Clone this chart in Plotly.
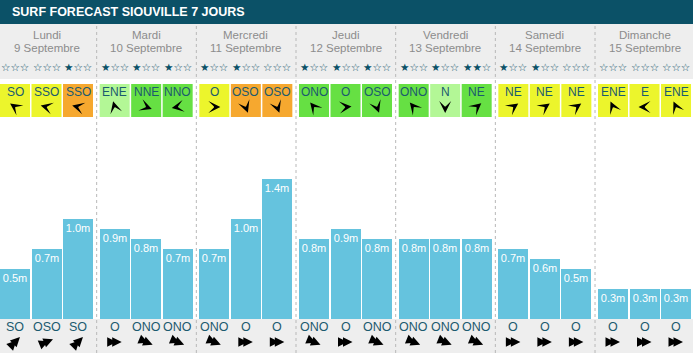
import math
import plotly.graph_objects as go

W, H = 693, 353

# ---------------- data ----------------
days = ["Lundi", "Mardi", "Mercredi", "Jeudi", "Vendredi", "Samedi", "Dimanche"]
dates = ["9 Septembre", "10 Septembre", "11 Septembre", "12 Septembre",
         "13 Septembre", "14 Septembre", "15 Septembre"]
stars = [[0, 0, 1], [1, 1, 1], [1, 1, 0], [1, 1, 1], [1, 1, 2], [1, 1, 0], [0, 0, 0]]
wind_dir = [["SO", "SSO", "SSO"], ["ENE", "NNE", "NNO"], ["O", "OSO", "OSO"],
            ["ONO", "O", "OSO"], ["ONO", "N", "NE"], ["NE", "NE", "NE"],
            ["ENE", "E", "ENE"]]
wind_level = [["y", "y", "o"], ["lg", "g", "g"], ["y", "o", "o"], ["g", "g", "g"],
              ["g", "lg", "g"], ["y", "y", "y"], ["y", "y", "y"]]
wind_arrow_angle = [[305, 285, 285], [345, 110, 260], [90, 160, 160], [320, 85, 160],
                    [320, 180, 50], [55, 55, 55], [335, 270, 335]]
wave_m = [[0.5, 0.7, 1.0], [0.9, 0.8, 0.7], [0.7, 1.0, 1.4], [0.8, 0.9, 0.8],
          [0.8, 0.8, 0.8], [0.7, 0.6, 0.5], [0.3, 0.3, 0.3]]
swell_dir = [["SO", "OSO", "SO"], ["O", "ONO", "ONO"], ["ONO", "O", "O"],
             ["ONO", "O", "ONO"], ["ONO", "ONO", "ONO"], ["O", "O", "O"],
             ["O", "O", "O"]]
swell_arrow_angle = [[45, 67.5, 45], [90, 112.5, 112.5], [112.5, 90, 90],
                     [112.5, 90, 112.5], [112.5, 112.5, 112.5], [90, 90, 90],
                     [90, 90, 90]]

# ---------------- style ----------------
TITLE_BG = "#0b5167"
GRAY_BG = "#eeeeee"
BAR_C = "#65c3de"
TEAL_TXT = "#1b5a6f"
DAY_TXT = "#8c8c8c"
SEP_C = "#b8b8b8"
LEVEL_C = {"y": "#ecf52c", "o": "#f6a82f", "lg": "#b3f796", "g": "#66e043"}
FONT = "Liberation Sans"

DAY_W = 99.67
SLOT = 31.5
BAR_W = 30
Y0 = 319      # pixel row of bar baseline
PXM = 100     # pixels per metre


def py(p):
    """pixel row -> paper fraction"""
    return 1 - p / H


def xc(d, s):
    return d * DAY_W + BAR_W / 2 + s * SLOT


xs, vals, labels = [], [], []
for d in range(7):
    for s in range(3):
        xs.append(xc(d, s))
        vals.append(wave_m[d][s])
        labels.append(f"{wave_m[d][s]:.1f}m")

fig = go.Figure()

shapes = [
    dict(type="rect", xref="paper", yref="paper", x0=0, x1=1, y0=py(24), y1=py(0),
         fillcolor=TITLE_BG, line_width=0, layer="below"),
    dict(type="rect", xref="paper", yref="paper", x0=0, x1=1, y0=py(79), y1=py(24),
         fillcolor=GRAY_BG, line_width=0, layer="below"),
    dict(type="rect", xref="paper", yref="paper", x0=0, x1=1, y0=py(353), y1=py(Y0),
         fillcolor=GRAY_BG, line_width=0, layer="below"),
]
for d in range(7):
    for s in range(3):
        x = xc(d, s)
        shapes.append(dict(type="rect", xref="x", yref="paper",
                           x0=x - BAR_W / 2, x1=x + BAR_W / 2, y0=py(117), y1=py(84),
                           fillcolor=LEVEL_C[wind_level[d][s]], line_width=0, layer="below"))
for d in range(1, 7):
    xsep = d * DAY_W - 3
    shapes.append(dict(type="line", xref="x", yref="paper", x0=xsep, x1=xsep,
                       y0=py(353), y1=py(24),
                       line=dict(color=SEP_C, width=1, dash="3px,3px"), layer="below"))

annotations = [dict(text="SURF FORECAST SIOUVILLE 7 JOURS", xref="paper", yref="paper",
                    x=10 / W, y=py(12), xanchor="left", yanchor="middle", showarrow=False,
                    font=dict(family=FONT, size=12.5, color="white", weight="bold"))]


def ann(text, x, ypix, size, color, family=FONT):
    return dict(text=text, x=x, y=py(ypix), xref="x", yref="paper", showarrow=False,
                xanchor="center", yanchor="middle",
                font=dict(family=family, size=size, color=color))


def head(cx, cy, angle, fwd, back, style, scale):
    """arrow head whose tip lies `fwd` px from (cx, cy) along `angle` (deg, clockwise from up)"""
    a = math.radians(angle)
    ux, uy = math.sin(a), -math.cos(a)
    return dict(text="", x=cx + fwd * ux, y=py(cy + fwd * uy), xref="x", yref="paper",
                showarrow=True, ax=-back * ux, ay=-back * uy,
                arrowhead=style, arrowwidth=0.1, arrowsize=scale / 0.1,
                arrowcolor="black", standoff=0, startstandoff=0)


for d in range(7):
    cx = xc(d, 1)
    annotations.append(ann(days[d], cx, 35, 11.5, DAY_TXT))
    annotations.append(ann(dates[d], cx, 48, 11.5, DAY_TXT))
    for s in range(3):
        x = xc(d, s)
        r = stars[d][s]
        annotations.append(ann("★" * r + "☆" * (3 - r), x, 67, 10.5, TITLE_BG, "DejaVu Sans"))
        annotations.append(ann(wind_dir[d][s], x, 92, 12, TEAL_TXT))
        annotations.append(ann(swell_dir[d][s], x, 327, 12.5, TEAL_TXT))
        # wind arrow: barbed head
        annotations.append(head(x, 107, wind_arrow_angle[d][s], 6, 6, 3, 2.0))
        # swell arrow: double head
        annotations.append(head(x, 342, swell_arrow_angle[d][s], 7, 6, 2, 1.9))
        annotations.append(head(x, 342, swell_arrow_angle[d][s], 2, 6, 2, 1.9))

fig.add_trace(go.Bar(x=xs, y=vals, width=BAR_W, marker=dict(color=BAR_C, line_width=0),
                     text=labels, textposition="inside", insidetextanchor="end",
                     textangle=0, constraintext="none",
                     textfont=dict(family=FONT, size=11, color="white"),
                     hoverinfo="skip"))

fig.update_layout(
    width=W, height=H, margin=dict(l=0, r=0, t=0, b=0),
    paper_bgcolor="white", plot_bgcolor="white", showlegend=False,
    xaxis=dict(range=[0, W], visible=False, fixedrange=True),
    yaxis=dict(range=[(Y0 - H) / PXM, Y0 / PXM], visible=False, fixedrange=True),
    shapes=shapes, annotations=annotations, hovermode=False, bargap=0,
)

fig.write_html("out.html", config=dict(displayModeBar=False))
